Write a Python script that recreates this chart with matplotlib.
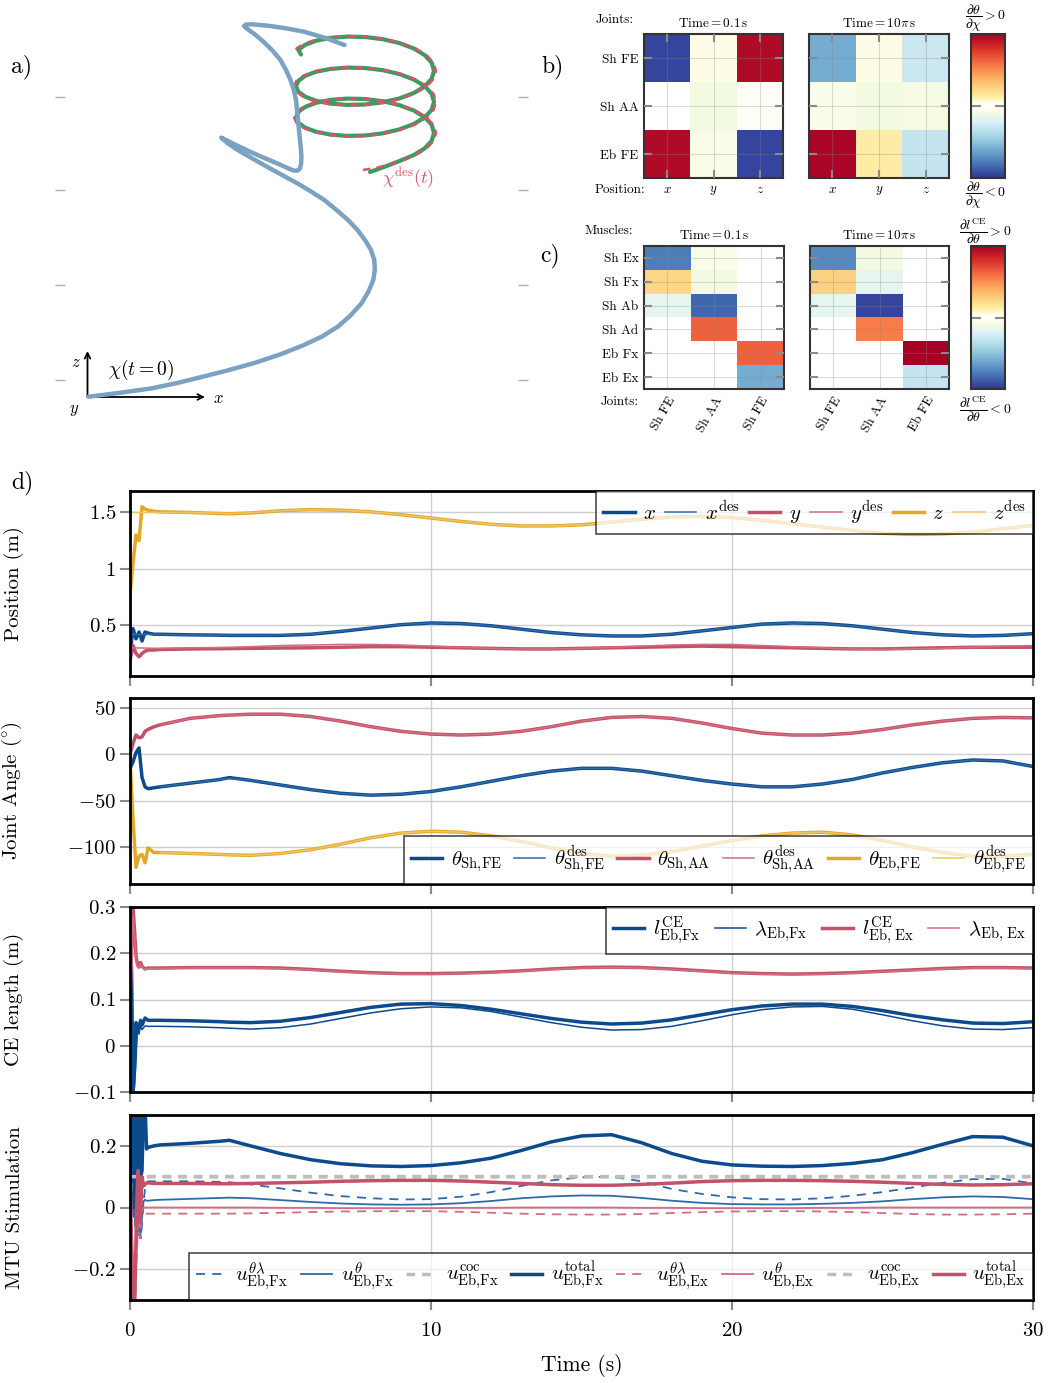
import numpy as np
import matplotlib
matplotlib.use('Agg')
import matplotlib.pyplot as plt
from matplotlib.colors import ListedColormap
from matplotlib.ticker import FuncFormatter

plt.rcParams['font.family'] = 'serif'
plt.rcParams['font.serif'] = ['cmr10']
plt.rcParams['mathtext.fontset'] = 'cm'
plt.rcParams['axes.formatter.use_mathtext'] = True
plt.rcParams['axes.unicode_minus'] = False

# ---------------- data ----------------
# a) projected hand trajectory (projected picture coordinates)
traj_x = [88.5, 120, 152, 178, 202.7, 228, 253.4, 280, 304, 322, 337.8, 350.5, 361.5, 368.5, 373.3,
          374.8, 374.3, 370.8, 364.9, 357.5, 348, 336.5, 324.3, 311, 297.3, 282, 266.9, 251.5, 236.5,
          228, 221.3, 235, 250, 264, 277, 287, 293.9, 298, 300, 301.2, 301.4, 300.8, 300, 299, 298,
          297, 296, 293.8, 290.5, 286, 280.4, 272.5, 263.5, 255, 246.6, 244, 246, 251.7, 260, 270.3,
          287, 304, 324, 344.6]
traj_y = [396.7, 392.8, 388.3, 382.8, 376.7, 370.3, 363.3, 354.5, 345, 336.5, 326.7, 315.5, 303.3,
          291.5, 280, 270, 260, 249.5, 240, 230, 220, 210, 200, 191.5, 183.3, 175, 166.7, 158, 149.3,
          143.5, 137.7, 144.5, 151.7, 157.8, 163.3, 167.8, 170.7, 170.5, 168.3, 163, 156.7, 148, 140,
          130, 120, 110, 100, 90, 80, 70, 60, 50.5, 41.7, 34.5, 28.3, 26, 24.5, 24.3, 25, 26, 28.5,
          31.7, 37.5, 45]
helix_x = [301, 298.3, 305.2, 316.2, 330.5, 347.1, 365, 382.9, 399.5, 413.8, 424.8, 431.7,
           434, 431.7, 424.8, 413.8, 399.5, 382.9, 365, 347.1, 330.5, 316.2, 305.2, 298.3,
           296, 298.3, 305.2, 316.2, 330.5, 347.1, 365, 382.9, 399.5, 413.8, 424.8, 431.7,
           434, 431.7, 424.8, 413.8, 399.5, 382.9, 365, 347.1, 330.5, 316.2, 305.2, 298.3,
           296, 298.3, 305.2, 316.2, 330.5, 347.1, 365, 382.9, 399.5, 413.8, 424.8, 431.7,
           434, 431.7, 424.8, 413.8, 399.5, 384, 370]
helix_y = [54.5, 49.8, 44.8, 40.7, 37.9, 36.6, 37.0, 39.2, 43.1, 48.5, 55.2, 62.8,
           70.8, 78.7, 86.3, 93.0, 98.4, 102.3, 104.5, 104.9, 103.6, 100.8, 96.7, 91.7,
           86.3, 80.9, 75.8, 71.7, 68.9, 67.6, 68.0, 70.2, 74.1, 79.5, 86.2, 93.8,
           101.8, 109.8, 117.3, 124.0, 129.4, 133.3, 135.5, 135.9, 134.6, 131.8, 127.7, 122.7,
           117.3, 111.9, 106.9, 102.8, 99.9, 98.6, 99.0, 101.2, 105.2, 110.5, 117.2, 124.8,
           132.8, 140.8, 148.3, 155.0, 161.0, 167.0, 172.0]
helix_des_x = [297, 296.4, 303.5, 314.8, 329.5, 346.6, 365, 383.4, 400.5, 415.2, 426.5, 433.6,
               436, 433.6, 426.5, 415.2, 400.5, 383.4, 365, 346.6, 329.5, 314.8, 303.5, 296.4,
               294, 296.4, 303.5, 314.8, 329.5, 346.6, 365, 383.4, 400.5, 415.2, 426.5, 433.6,
               436, 433.6, 426.5, 415.2, 400.5, 383.4, 365, 346.6, 329.5, 314.8, 303.5, 296.4,
               294, 296.4, 303.5, 314.8, 329.5, 346.6, 365, 383.4, 400.5, 415.2, 426.5, 433.6,
               436, 433.6, 426.5, 415.2, 400.5, 378, 360]
helix_des_y = [50.0, 48.5, 44.0, 40.0, 37.3, 36.0, 36.5, 38.8, 42.8, 48.3, 55.0, 62.8,
               71.0, 79.0, 86.6, 93.3, 98.8, 102.7, 104.9, 105.3, 104.0, 101.1, 97.0, 91.9,
               86.4, 80.9, 75.6, 71.4, 68.6, 67.2, 67.6, 69.9, 73.9, 79.4, 86.2, 94.0,
               102.0, 110.1, 117.6, 124.4, 129.8, 133.7, 135.9, 136.3, 135.0, 132.1, 127.9, 122.8,
               117.3, 111.7, 106.6, 102.5, 99.6, 98.3, 98.7, 101.0, 105.1, 110.5, 117.3, 125.0,
               133.0, 141.0, 148.6, 155.3, 161.3, 167.5, 170.5]
a_ticks = [97, 190, 285, 380]

# b) joint / position sensitivities
b_rows = ['Sh FE', 'Sh AA', 'Eb FE']
b_cols = ['$x$', '$y$', '$z$']
b_t01 = [[-0.95, 0.04, 0.95], [0.0, -0.1, 0.01], [0.95, -0.07, -0.95]]
b_t10pi = [[-0.6, 0.04, -0.28], [-0.05, -0.1, -0.08], [0.97, 0.13, -0.3]]

# c) muscle / joint sensitivities
c_rows = ['Sh Ex', 'Sh Fx', 'Sh Ab', 'Sh Ad', 'Eb Fx', 'Eb Ex']
c_cols_t01 = ['Sh FE', 'Sh AA', 'Sh FE']
c_cols_t10pi = ['Sh FE', 'Sh AA', 'Eb FE']
c_t01 = [[-0.76, -0.06, 0], [0.24, -0.1, 0], [-0.16, -0.84, 0], [0, 0.64, 0], [0, 0, 0.64], [0, 0, -0.6]]
c_t10pi = [[-0.72, -0.1, 0], [0.26, -0.16, 0], [-0.16, -0.95, 0], [0, 0.55, 0], [0, 0, 1.0], [0, 0, -0.3]]

# d) time series
t_slow = [1, 2, 3, 3.3, 4, 5, 6, 7, 8, 9, 10, 11, 12, 13, 14, 15, 16, 17, 18, 19, 20,
          21, 22, 23, 24, 25, 26, 27, 28, 29, 30]
t_des = [0, 1, 2, 3, 3.3, 4, 5, 6, 7, 8, 9, 10, 11, 12, 13, 14, 15, 16, 17, 18, 19, 20,
         21, 22, 23, 24, 25, 26, 27, 28, 29, 30]

t_pos_start = [0, 0.1, 0.2, 0.3, 0.4, 0.5, 0.6, 0.8]
x_start = [0.25, 0.47, 0.38, 0.44, 0.36, 0.44, 0.43, 0.42]
x_slow = [0.42, 0.415, 0.412, 0.41, 0.41, 0.41, 0.42, 0.445, 0.475, 0.505, 0.52, 0.515, 0.495, 0.465,
          0.435, 0.415, 0.405, 0.405, 0.42, 0.45, 0.48, 0.51, 0.52, 0.515, 0.495, 0.465, 0.435, 0.415,
          0.405, 0.41, 0.425]
x_des = [0.42, 0.418, 0.415, 0.412, 0.41, 0.41, 0.412, 0.422, 0.447, 0.477, 0.507, 0.52, 0.515, 0.495,
         0.465, 0.435, 0.415, 0.405, 0.405, 0.42, 0.45, 0.48, 0.51, 0.52, 0.515, 0.495, 0.465, 0.435,
         0.415, 0.405, 0.41, 0.425]
y_start = [0.19, 0.32, 0.25, 0.22, 0.25, 0.27, 0.28, 0.28]
y_slow = [0.285, 0.29, 0.292, 0.293, 0.295, 0.298, 0.30, 0.305, 0.31, 0.31, 0.305, 0.30, 0.295, 0.29,
          0.29, 0.295, 0.30, 0.305, 0.31, 0.315, 0.31, 0.305, 0.30, 0.295, 0.29, 0.29, 0.295, 0.30,
          0.305, 0.305, 0.305]
y_des = [0.30, 0.295, 0.30, 0.303, 0.304, 0.31, 0.32, 0.325, 0.33, 0.33, 0.325, 0.315, 0.305, 0.295,
         0.29, 0.29, 0.295, 0.305, 0.315, 0.325, 0.33, 0.33, 0.32, 0.31, 0.30, 0.29, 0.285, 0.29,
         0.295, 0.305, 0.315, 0.32]
z_start = [0.77, 1.05, 1.3, 1.25, 1.55, 1.53, 1.52, 1.51]
z_slow = [1.505, 1.50, 1.49, 1.488, 1.495, 1.515, 1.525, 1.52, 1.505, 1.48, 1.45, 1.42, 1.395, 1.38,
          1.38, 1.39, 1.415, 1.44, 1.46, 1.465, 1.455, 1.43, 1.40, 1.37, 1.34, 1.315, 1.305, 1.31,
          1.325, 1.355, 1.385]
z_des = [1.5, 1.5, 1.5, 1.492, 1.49, 1.497, 1.515, 1.525, 1.52, 1.505, 1.48, 1.45, 1.42, 1.395, 1.38,
         1.38, 1.39, 1.415, 1.44, 1.46, 1.465, 1.455, 1.43, 1.40, 1.37, 1.34, 1.315, 1.305, 1.31,
         1.325, 1.355, 1.385]

t_ang_start = [0, 0.1, 0.2, 0.3, 0.4, 0.5, 0.6, 0.8]
sh_fe_start = [-15, -8, 2, 7, -25, -35, -37, -36]
sh_fe_slow = [-35, -31, -27, -25, -28, -33, -38, -42, -44, -43, -40, -35, -29, -23, -18, -15, -15,
              -18, -23, -28, -32, -35, -35, -32, -27, -20, -14, -9, -6, -7, -13]
sh_fe_des = [-35, -31, -27, -26, -28, -33, -38, -42, -44, -43, -40, -35, -29, -23, -18, -15, -15,
             -18, -23, -28, -32, -35, -35, -32, -27, -20, -14, -9, -6, -7, -13]
sh_aa_start = [0, 12, 21, 18, 19, 25, 27, 30]
sh_aa_slow = [32, 39, 42, 42.5, 43.5, 43.5, 41, 36, 30, 25, 22, 21, 22, 25, 30, 36, 40, 41, 39, 34,
              28, 23, 21, 21, 23, 27, 32, 36, 39, 40, 39.5]
sh_aa_des = [32, 39, 42, 42.5, 43.5, 43.5, 41, 36, 30, 25, 22, 21, 22, 25, 30, 36, 40, 41, 39, 34,
             28, 23, 21, 21, 23, 27, 32, 36, 39, 40, 39.5]
eb_fe_start = [-5, -70, -122, -110, -108, -117, -101, -106]
eb_fe_slow = [-106, -107, -108, -108.5, -109, -107, -103, -97, -90, -85, -83, -84, -88, -94, -101,
              -107, -110, -109, -105, -99, -93, -88, -85, -84, -87, -93, -100, -106, -110, -110, -108]
eb_fe_des = [-106, -107, -108, -108.5, -109, -107, -103, -97, -90, -85, -83, -84, -88, -94, -101,
             -107, -110, -109, -105, -99, -93, -88, -85, -84, -87, -93, -100, -106, -110, -110, -108]

t_ce_start = [0, 0.05, 0.1, 0.15, 0.2, 0.25, 0.3, 0.35, 0.4, 0.5, 0.6, 0.8]
lce_fx_start = [0.175, 0.17, -0.1, -0.05, 0.05, 0.03, 0.04, 0.055, 0.045, 0.06, 0.055, 0.055]
lce_fx_slow = [0.055, 0.054, 0.052, 0.051, 0.05, 0.053, 0.061, 0.072, 0.083, 0.09, 0.091, 0.087, 0.079,
               0.069, 0.059, 0.051, 0.047, 0.049, 0.056, 0.067, 0.078, 0.086, 0.09, 0.09, 0.085, 0.076,
               0.065, 0.056, 0.049, 0.048, 0.052]
lam_fx_start = [0.175, 0.1, 0.0, -0.09, -0.03, 0.04, 0.025, 0.045, 0.035, 0.043, 0.042, 0.042]
lam_fx_slow = [0.042, 0.041, 0.039, 0.038, 0.036, 0.039, 0.047, 0.059, 0.071, 0.08, 0.084, 0.082, 0.074,
               0.062, 0.05, 0.04, 0.034, 0.035, 0.042, 0.054, 0.067, 0.078, 0.084, 0.085, 0.079, 0.067,
               0.054, 0.043, 0.036, 0.035, 0.039]
lce_ex_start = [0.095, 0.2, 0.3, 0.25, 0.195, 0.175, 0.17, 0.18, 0.172, 0.166, 0.168, 0.168]
lce_ex_slow = [0.168, 0.169, 0.169, 0.169, 0.169, 0.168, 0.165, 0.161, 0.158, 0.156, 0.156, 0.157, 0.159,
               0.162, 0.166, 0.169, 0.17, 0.169, 0.166, 0.162, 0.158, 0.156, 0.155, 0.156, 0.158, 0.161,
               0.164, 0.167, 0.169, 0.169, 0.168]
lam_ex_start = [0.095, 0.15, 0.28, 0.24, 0.19, 0.17, 0.168, 0.178, 0.17, 0.165, 0.167, 0.167]
lam_ex_slow = [0.167, 0.168, 0.168, 0.168, 0.168, 0.167, 0.164, 0.16, 0.157, 0.155, 0.155, 0.156, 0.158,
               0.161, 0.165, 0.168, 0.169, 0.168, 0.165, 0.161, 0.157, 0.155, 0.154, 0.155, 0.157, 0.16,
               0.163, 0.166, 0.168, 0.168, 0.167]

t_u_start = [0, 0.03, 0.06, 0.09, 0.12, 0.15, 0.18, 0.21, 0.24, 0.27, 0.3, 0.33, 0.36, 0.4, 0.45,
             0.5, 0.55, 0.6, 0.8]
u_tl_fx_start = [0.1, 0.09, 0.06, 0.03, -0.02, 0.02, -0.05, 0.0, -0.04, -0.08, -0.02, -0.06, -0.1,
                 -0.05, 0.02, 0.06, 0.08, 0.085, 0.085]
u_tl_fx_slow = [0.085, 0.085, 0.083, 0.082, 0.075, 0.062, 0.048, 0.037, 0.03, 0.026, 0.027, 0.035, 0.05,
                0.07, 0.088, 0.098, 0.1, 0.085, 0.06, 0.044, 0.033, 0.027, 0.026, 0.03, 0.038, 0.05,
                0.065, 0.08, 0.092, 0.093, 0.078]
u_t_fx_start = [0.1, 0.08, 0.05, 0.02, -0.03, 0.0, -0.06, -0.02, -0.05, -0.09, -0.03, -0.07, -0.08,
                -0.03, 0.02, 0.025, 0.022, 0.022, 0.024]
u_t_fx_slow = [0.025, 0.028, 0.031, 0.032, 0.03, 0.024, 0.018, 0.013, 0.01, 0.009, 0.01, 0.014, 0.021,
               0.03, 0.036, 0.039, 0.038, 0.031, 0.022, 0.015, 0.011, 0.01, 0.01, 0.012, 0.015, 0.02,
               0.027, 0.033, 0.036, 0.034, 0.027]
u_coc_t = [0, 0.03, 30]
u_coc_fx = [0.0, 0.1, 0.1]
u_coc_ex = [0.0, 0.1, 0.1]
u_tot_fx_start = [0.1, 0.32, 0.04, 0.33, 0.0, 0.34, 0.05, 0.33, 0.02, 0.33, 0.06, 0.31, 0.1, 0.12,
                  0.33, 0.34, 0.19, 0.195, 0.2]
u_tot_fx_slow = [0.203, 0.208, 0.215, 0.218, 0.2, 0.175, 0.155, 0.142, 0.135, 0.133, 0.136, 0.145, 0.16,
                 0.185, 0.213, 0.232, 0.236, 0.21, 0.175, 0.15, 0.138, 0.134, 0.133, 0.136, 0.143,
                 0.155, 0.178, 0.205, 0.23, 0.228, 0.2]
u_tl_ex_start = [0.0, -0.05, -0.1, -0.18, -0.25, -0.3, -0.28, -0.2, -0.12, -0.05, -0.08, -0.1, -0.06,
                 -0.04, -0.03, -0.022, -0.02, -0.02, -0.02]
u_tl_ex_slow = [-0.02, -0.02, -0.02, -0.02, -0.019, -0.017, -0.015, -0.013, -0.012, -0.012, -0.012,
                -0.014, -0.017, -0.02, -0.022, -0.023, -0.023, -0.021, -0.018, -0.015, -0.013, -0.012,
                -0.012, -0.013, -0.015, -0.018, -0.021, -0.023, -0.023, -0.022, -0.02]
u_t_ex_start = [0.0, -0.04, -0.08, -0.14, -0.2, -0.25, -0.22, -0.15, -0.08, -0.02, -0.04, -0.06, -0.03,
                -0.01, 0.0, 0.0, 0.0, 0.0, 0.0]
u_t_ex_slow = [0.0, 0.0, 0.0, 0.0, 0.0, -0.001, -0.001, -0.002, -0.002, -0.002, -0.002, -0.001, -0.001,
               0.0, 0.0, 0.0, 0.0, -0.001, -0.001, -0.002, -0.002, -0.002, -0.002, -0.001, -0.001,
               0.0, 0.0, 0.0, 0.0, 0.0, 0.0]
u_tot_ex_start = [0.1, 0.0, -0.2, -0.35, -0.35, -0.35, -0.2, -0.05, 0.05, 0.12, 0.06, -0.05, 0.0, 0.1,
                  0.07, 0.075, 0.08, 0.08, 0.078]
u_tot_ex_slow = [0.078, 0.078, 0.077, 0.077, 0.078, 0.08, 0.082, 0.085, 0.087, 0.088, 0.088, 0.086,
                 0.082, 0.078, 0.074, 0.072, 0.072, 0.075, 0.079, 0.084, 0.087, 0.088, 0.088, 0.087,
                 0.085, 0.082, 0.078, 0.075, 0.073, 0.074, 0.077]

# ---------------- style ----------------
BLUE = '#0d4a8c'
BLUE_T = '#2d6aab'
RED = '#c2516a'
RED_T = '#d26d82'
GOLD = '#e3a82b'
GOLD_T = '#efc561'
GRAY = '#bdbdbd'
GRID = '#cfcfcf'
TICK = '#8a8a8a'
FS_SMALL = 9.5

W, H = 1049, 1383
fig = plt.figure(figsize=(W / 100, H / 100), dpi=100)


def box(x0, y0, x1, y1):
    return [x0 / W, 1 - y1 / H, (x1 - x0) / W, (y1 - y0) / H]


def put(x, y, s, **kw):
    fig.text(x / W, 1 - y / H, s, ha=kw.pop('ha', 'center'), va=kw.pop('va', 'center'), **kw)


# ---------------- a) ----------------
ax_a = fig.add_axes(box(65, 0, 518, 430))
ax_a.plot(helix_x, helix_y, color='#3c9b5d', lw=3.0, zorder=2, solid_capstyle='round')
ax_a.plot(helix_des_x, helix_des_y, color='#d9536b', lw=1.8, ls=(0, (3, 2.5)), zorder=3)
ax_a.plot(traj_x, traj_y, color='#7ba2c2', lw=3.2, zorder=4, solid_capstyle='round')
ax_a.set_xlim(65, 518)
ax_a.set_ylim(430, 0)
for s in ax_a.spines.values():
    s.set_visible(False)
ax_a.set_xticks([])
ax_a.set_yticks(a_ticks)
ax_a.tick_params(axis='y', left=True, right=True, labelleft=False, length=7, color='#b0b0b0', width=1)
ax_a.annotate('', xy=(205, 397), xytext=(87.5, 397),
              arrowprops=dict(arrowstyle='->', lw=1.3, color='black', shrinkA=0, shrinkB=0))
ax_a.annotate('', xy=(87.5, 351), xytext=(87.5, 397),
              arrowprops=dict(arrowstyle='->', lw=1.3, color='black', shrinkA=0, shrinkB=0))
ax_a.text(76, 362, '$z$', fontsize=12, ha='center', va='center')
ax_a.text(218, 398, '$x$', fontsize=12, ha='center', va='center')
ax_a.text(74, 410, '$y$', fontsize=12, ha='center', va='center')
ax_a.text(108, 370, r'$\chi(t=0)$', fontsize=14, ha='left', va='center')
ax_a.text(382, 178, r'$\chi^{\mathrm{des}}(t)$', fontsize=13, ha='left', va='center', color='#d9536b')

# ---------------- b) and c) ----------------
u = np.linspace(0, 1, 256)
base = plt.get_cmap('RdYlBu_r')(u)
w = 0.9 * np.exp(-((u - 0.5) / 0.04) ** 2)
base[:, :3] = base[:, :3] * (1 - w[:, None]) + w[:, None]
base[127:129] = [1, 1, 1, 1]
cmap = ListedColormap(base)


def heat(rect, data, cols, rows, title, bottom_ticks, rot):
    ax = fig.add_axes(rect)
    im = ax.imshow(np.array(data), cmap=cmap, vmin=-1, vmax=1, aspect='auto', interpolation='nearest')
    ax.set_xticks(range(len(cols)))
    ax.set_yticks(range(len(data)))
    ax.grid(True, color='#888888', alpha=0.3, lw=0.8)
    ax.set_axisbelow(False)
    ax.tick_params(direction='in', length=6, width=1.5, color=TICK, left=True, right=True,
                   top=bottom_ticks, bottom=bottom_ticks, labelsize=FS_SMALL, pad=4)
    if rot:
        ax.set_xticklabels(cols, rotation=60, ha='right', rotation_mode='anchor', fontsize=FS_SMALL)
    else:
        ax.set_xticklabels(cols, fontsize=FS_SMALL)
    if rows is None:
        ax.set_yticklabels([])
    else:
        ax.set_yticklabels(rows, fontsize=FS_SMALL)
    for s in ax.spines.values():
        s.set_linewidth(1.5)
        s.set_color('#333333')
    ax.set_title(title, fontsize=FS_SMALL, pad=5)
    return im


im_b = heat(box(644, 34, 783, 178), b_t01, b_cols, b_rows, r'$\mathrm{Time}=0.1\,\mathrm{s}$', True, False)
heat(box(809, 34, 949, 178), b_t10pi, b_cols, None, r'$\mathrm{Time}=10\pi\,\mathrm{s}$', True, False)
im_c = heat(box(644, 246, 784, 389), c_t01, c_cols_t01, c_rows, r'$\mathrm{Time}=0.1\,\mathrm{s}$', False, True)
heat(box(810, 246, 949, 389), c_t10pi, c_cols_t10pi, None, r'$\mathrm{Time}=10\pi\,\mathrm{s}$', False, True)

for rect, im in [(box(971, 34, 1005, 178), im_b), (box(971, 246, 1005, 389), im_c)]:
    cax = fig.add_axes(rect)
    cb = fig.colorbar(im, cax=cax, ticks=[0])
    cb.outline.set_linewidth(1.5)
    cb.outline.set_edgecolor('#333333')
    cax.tick_params(direction='in', length=7, width=1.5, color=TICK, left=True, right=True,
                    labelleft=False, labelright=False)

put(615, 20, 'Joints:', fontsize=FS_SMALL)
put(620, 190, 'Position:', fontsize=FS_SMALL)
put(609, 231, 'Muscles:', fontsize=FS_SMALL)
put(620, 402, 'Joints:', fontsize=FS_SMALL)
put(985, 18, r'$\dfrac{\partial\theta}{\partial\chi}>0$', fontsize=10)
put(985, 195, r'$\dfrac{\partial\theta}{\partial\chi}<0$', fontsize=10)
put(985, 231, r'$\dfrac{\partial l^{\mathrm{CE}}}{\partial\theta}>0$', fontsize=10)
put(985, 409, r'$\dfrac{\partial l^{\mathrm{CE}}}{\partial\theta}<0$', fontsize=10)

put(22, 67, 'a)', fontsize=17)
put(552, 67, 'b)', fontsize=17)
put(550, 256, 'c)', fontsize=17)
put(22, 483, 'd)', fontsize=17)

# ---------------- d) ----------------
fmt = FuncFormatter(lambda v, p: '$%g$' % v)


def panel(y0, y1, ylim, yticks, ylabel):
    ax = fig.add_axes(box(130, y0, 1033, y1))
    ax.set_xlim(0, 30)
    ax.set_ylim(*ylim)
    ax.set_xticks([0, 10, 20, 30])
    ax.set_yticks(yticks)
    ax.yaxis.set_major_formatter(fmt)
    ax.grid(True, color=GRID, lw=1)
    ax.set_axisbelow(True)
    ax.tick_params(direction='out', length=7, width=1.5, color=TICK, labelsize=15, labelbottom=False, pad=3)
    ax.tick_params(axis='x', pad=9)
    for s in ax.spines.values():
        s.set_linewidth(2)
    ax.set_ylabel(ylabel, fontsize=15)
    ax.yaxis.set_label_coords(-0.117, 0.5)
    return ax


def leg(ax, loc, ncol, spacing):
    lg = ax.legend(loc=loc, ncol=ncol, borderaxespad=0, fontsize=15, fancybox=False, edgecolor='black',
                   framealpha=0.7, handlelength=1.5, handletextpad=0.4, columnspacing=spacing,
                   borderpad=0.35)
    lg.get_frame().set_linewidth(1.2)
    lg.set_zorder(10)


ax1 = panel(491, 676, (0.05, 1.69), [0.5, 1, 1.5], 'Position (m)')
ax1.plot(t_pos_start + t_slow, x_start + x_slow, color=BLUE, lw=2.5, label='$x$')
ax1.plot(t_des, x_des, color=BLUE_T, lw=1.1, label=r'$x^{\mathrm{des}}$')
ax1.plot(t_pos_start + t_slow, y_start + y_slow, color=RED, lw=2.5, label='$y$')
ax1.plot(t_des, y_des, color=RED_T, lw=1.1, label=r'$y^{\mathrm{des}}$')
ax1.plot(t_pos_start + t_slow, z_start + z_slow, color=GOLD, lw=2.5, label='$z$')
ax1.plot(t_des, z_des, color=GOLD_T, lw=1.1, label=r'$z^{\mathrm{des}}$')
leg(ax1, 'upper right', 6, 0.45)

ax2 = panel(698, 884, (-140, 61), [-100, -50, 0, 50], r'Joint Angle $(^{\circ})$')
ax2.plot(t_ang_start + t_slow, sh_fe_start + sh_fe_slow, color=BLUE, lw=2.5,
         label=r'$\theta_{\mathrm{Sh{,}FE}}$')
ax2.plot(t_slow, sh_fe_des, color=BLUE_T, lw=1.1, label=r'$\theta^{\mathrm{des}}_{\mathrm{Sh{,}FE}}$')
ax2.plot(t_ang_start + t_slow, sh_aa_start + sh_aa_slow, color=RED, lw=2.5,
         label=r'$\theta_{\mathrm{Sh{,}AA}}$')
ax2.plot(t_slow, sh_aa_des, color=RED_T, lw=1.1, label=r'$\theta^{\mathrm{des}}_{\mathrm{Sh{,}AA}}$')
ax2.plot(t_ang_start + t_slow, eb_fe_start + eb_fe_slow, color=GOLD, lw=2.5,
         label=r'$\theta_{\mathrm{Eb{,}FE}}$')
ax2.plot(t_slow, eb_fe_des, color=GOLD_T, lw=1.1, label=r'$\theta^{\mathrm{des}}_{\mathrm{Eb{,}FE}}$')
leg(ax2, 'lower right', 6, 0.6)

ax3 = panel(907, 1092, (-0.1, 0.3), [-0.1, 0, 0.1, 0.2, 0.3], 'CE length (m)')
ax3.plot(t_ce_start + t_slow, lce_fx_start + lce_fx_slow, color=BLUE, lw=2.5,
         label=r'$l^{\mathrm{CE}}_{\mathrm{Eb{,}Fx}}$')
ax3.plot(t_ce_start + t_slow, lam_fx_start + lam_fx_slow, color=BLUE, lw=1.1,
         label=r'$\lambda_{\mathrm{Eb{,}Fx}}$')
ax3.plot(t_ce_start + t_slow, lce_ex_start + lce_ex_slow, color=RED, lw=2.5,
         label=r'$l^{\mathrm{CE}}_{\mathrm{Eb{,}\ Ex}}$')
ax3.plot(t_ce_start + t_slow, lam_ex_start + lam_ex_slow, color=RED_T, lw=1.1,
         label=r'$\lambda_{\mathrm{Eb{,}\ Ex}}$')
leg(ax3, 'upper right', 4, 0.7)

ax4 = panel(1115, 1300, (-0.3, 0.3), [-0.2, 0, 0.2], 'MTU Stimulation')
ax4.plot(t_u_start + t_slow, u_tl_fx_start + u_tl_fx_slow, color=BLUE_T, lw=1.3, ls=(0, (5, 4)),
         label=r'$u^{\theta\lambda}_{\mathrm{Eb{,}Fx}}$')
ax4.plot(t_u_start + t_slow, u_t_fx_start + u_t_fx_slow, color=BLUE_T, lw=1.3,
         label=r'$u^{\theta}_{\mathrm{Eb{,}Fx}}$')
ax4.plot(u_coc_t, u_coc_fx, color=GRAY, lw=2.5, ls=(0, (2.5, 2)),
         label=r'$u^{\mathrm{coc}}_{\mathrm{Eb{,}Fx}}$')
ax4.plot(t_u_start + t_slow, u_tot_fx_start + u_tot_fx_slow, color=BLUE, lw=2.5,
         label=r'$u^{\mathrm{total}}_{\mathrm{Eb{,}Fx}}$')
ax4.plot(t_u_start + t_slow, u_tl_ex_start + u_tl_ex_slow, color=RED_T, lw=1.3, ls=(0, (5, 4)),
         label=r'$u^{\theta\lambda}_{\mathrm{Eb{,}Ex}}$')
ax4.plot(t_u_start + t_slow, u_t_ex_start + u_t_ex_slow, color=RED_T, lw=1.3,
         label=r'$u^{\theta}_{\mathrm{Eb{,}Ex}}$')
ax4.plot(u_coc_t, u_coc_ex, color=GRAY, lw=2.5, ls=(0, (2.5, 2)),
         label=r'$u^{\mathrm{coc}}_{\mathrm{Eb{,}Ex}}$')
ax4.plot(t_u_start + t_slow, u_tot_ex_start + u_tot_ex_slow, color=RED, lw=2.5,
         label=r'$u^{\mathrm{total}}_{\mathrm{Eb{,}Ex}}$')
leg(ax4, 'lower right', 8, 0.6)
ax4.tick_params(labelbottom=True)
ax4.set_xlabel('Time (s)', fontsize=15.5, labelpad=10)

fig.savefig('out.png', dpi=100)
